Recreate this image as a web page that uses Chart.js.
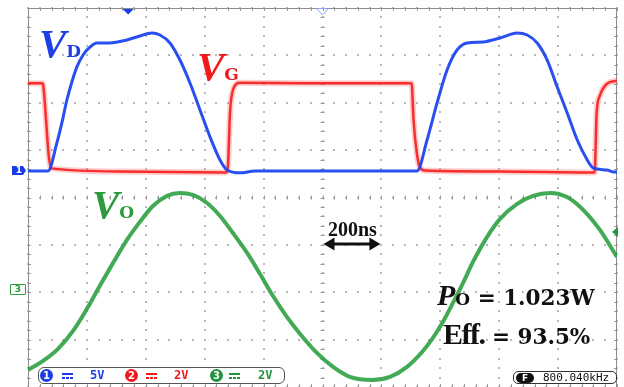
<!DOCTYPE html>
<html>
<head>
<meta charset="utf-8">
<script src="https://cdn.jsdelivr.net/npm/chart.js@4.4.0/dist/chart.umd.min.js"></script>
<style>
  body { margin: 0; background: #fff; }
  #wrap { position: relative; width: 624px; height: 387px; overflow: hidden; background: #fff; }
  #scope { position: absolute; left: 0; top: 0; }
  .lbl { position: absolute; white-space: nowrap; line-height: 1; }
  .big { font-family: "Liberation Serif"; font-weight: bold; font-style: italic; font-size: 41px; }
  .sub { font-family: "DejaVu Serif"; font-weight: bold; font-style: normal; font-size: 17px; }
  .num { font-family: "DejaVu Serif"; font-weight: bold; font-style: normal; font-size: 21.5px; }
  .box { position: absolute; border: 1.5px solid #555; border-radius: 6px; background: #fff; }
  .chip { position: absolute; width: 13px; height: 13px; border-radius: 50%; color: #fff;
          font: bold 10px "DejaVu Sans"; text-align: center; line-height: 13px; }
  .dc { position: absolute; width: 11px; height: 6px;
        background: linear-gradient(currentColor, currentColor) top / 100% 2px no-repeat,
                    repeating-linear-gradient(90deg, currentColor 0 3px, transparent 3px 4px) bottom / 100% 2px no-repeat; }
  .vdiv { position: absolute; font: bold 12px "DejaVu Sans Mono"; line-height: 13px; }
  .mark { position: absolute; font: bold 9px "DejaVu Sans"; line-height: 9px; text-align: center; }
</style>
</head>
<body>
<div id="wrap">
  <canvas id="scope" width="624" height="387"></canvas>

  <div class="lbl big" style="left:39px;top:23px;color:#1d3fe6">V<span class="sub">D</span></div>
  <div class="lbl big" style="left:197px;top:46px;color:#f21a1a">V<span class="sub">G</span></div>
  <div class="lbl big" style="left:92px;top:184px;color:#2e9a3e">V<span class="sub">O</span></div>

  <div class="lbl" style="left:328px;top:218px;font:bold 20px 'Liberation Serif';color:#111">200ns</div>

  <div class="lbl" style="left:437px;top:278px;font:italic bold 30px 'Liberation Serif';color:#111">P<span class="sub">O</span><span class="num"> = 1.023W</span></div>
  <div class="lbl" style="left:443px;top:317px;font:bold 30px 'Liberation Serif';letter-spacing:-1.5px;color:#111">Eff.<span class="num" style="letter-spacing:0"> = 93.5%</span></div>

  <div class="mark" style="left:12px;top:166px;width:14px;height:9px;background:#1a3ce8;color:#fff;clip-path:polygon(0 0,78% 0,100% 50%,78% 100%,0 100%)">1</div>
  <div class="mark" style="left:10px;top:284px;width:14px;height:9px;border:1px solid #2e9a3e;border-radius:1px;color:#2e9a3e;background:#fff">3</div>

  <div class="box" style="left:38px;top:367px;width:245px;height:15px"></div>
  <div class="chip" style="left:40px;top:369px;background:#1a3ce8">1</div>
  <div class="dc" style="left:62px;top:373px;color:#1a3ce8"></div>
  <div class="vdiv" style="left:90px;top:369px;color:#1a3ce8">5V</div>
  <div class="chip" style="left:125px;top:369px;background:#f01a1a">2</div>
  <div class="dc" style="left:146px;top:373px;color:#f01a1a"></div>
  <div class="vdiv" style="left:174px;top:369px;color:#f01a1a">2V</div>
  <div class="chip" style="left:210px;top:369px;background:#22943e">3</div>
  <div class="dc" style="left:229px;top:373px;color:#22943e"></div>
  <div class="vdiv" style="left:258px;top:369px;color:#22943e">2V</div>

  <div class="box" style="left:513px;top:371px;width:102px;height:11px;border-radius:5px;border-color:#333"></div>
  <div class="chip" style="left:516px;top:373px;width:18px;height:10px;border-radius:5px;background:#111;line-height:10px;font-size:9px">F</div>
  <div class="vdiv" style="left:543px;top:371px;font:11px 'DejaVu Sans Mono';line-height:13px;color:#111">800.040kHz</div>
</div>

<script>
// time axis: 10 div x 200 ns
const timeTicks = [0, 200, 400, 600, 800, 1000, 1200, 1400, 1600, 1800, 2000];
const divTicks = [0, 1, 2, 3, 4, 5, 6, 7, 8];

// channel settings (V/div and ground level in divisions from bottom)
const voltsPerDiv = [5, 2, 2];
const zeroDiv = [4.56, 4.53, 2.07];

// CH1 drain voltage
const vdTime = [0, 68, 98, 115, 132, 149, 166, 187, 211, 234, 278, 336, 380, 421, 448, 482, 516, 550, 584, 618, 652, 676, 720, 771,
  1321, 1355, 1389, 1423, 1457, 1491, 1545, 1603, 1661, 1695, 1729, 1763, 1797, 1831, 1865, 1899, 1919, 1966, 1987, 2000];
const vdVolts = [0, 0, 2.96, 5.07, 7.49, 9.39, 10.98, 12.24, 13.09, 13.51, 13.51, 13.83, 14.25, 14.56, 14.35, 13.51, 11.71, 9.29, 6.44, 3.59, 1.16, 0.1, -0.2, 0,
  0, 3.27, 7.18, 10.66, 12.77, 13.51, 13.61, 14.04, 14.56, 14.35, 13.51, 11.71, 8.87, 6.12, 3.27, 1.16, 0.32, 0.1, -0.1, -0.1];

// CH2 gate voltage
const vgTime = [0, 48, 51, 58, 65, 71, 81, 312, 672, 679, 686, 697, 720, 924,
  1300, 1303, 1309, 1320, 1331, 1348, 1603, 1924, 1931, 1942, 1965, 2000];
const vgVolts = [3.76, 3.76, 3.72, 2.79, 1.56, 0.63, 0.17, 0.04, 0, 0.3, 2.53, 3.52, 3.78, 3.76,
  3.76, 3.72, 2.24, 0.84, 0.21, 0.08, 0.04, 0, 2.53, 3.24, 3.73, 3.87];

// CH3 output voltage
const voTime = [0, 51, 102, 153, 200, 244, 289, 336, 380, 424, 472, 516, 560, 608, 652, 696, 744, 788, 832, 879, 924,
  981, 1036, 1093, 1168, 1229, 1287, 1341, 1375, 1409, 1443, 1477, 1511, 1559, 1603, 1661, 1715, 1773, 1830, 1885, 1942, 2000];
const voVolts = [-3.42, -3.04, -2.53, -1.77, -0.84, 0.13, 1.10, 2.07, 2.83, 3.50, 3.93, 4.05, 3.97, 3.63, 3.08, 2.36, 1.52, 0.63, -0.30, -1.18, -1.90,
  -2.70, -3.29, -3.71, -3.84, -3.71, -3.29, -2.62, -2.07, -1.39, -0.59, 0.25, 1.14, 2.20, 2.96, 3.59, 3.93, 4.05, 3.88, 3.34, 2.49, 1.35];

// trigger / marker settings
const trigTime = 340;
const ch3Level = 2.4;

function pts(ts, vs) {
    return ts.map((t, i) => ({ x: t, y: vs[i] }));
}

function chAxis(i) {
    return {
        type: 'linear',
        display: false,
        min: -zeroDiv[i] * voltsPerDiv[i],
        max: (divTicks.length - 1 - zeroDiv[i]) * voltsPerDiv[i]
    };
}

const scopeDecor = {
    id: 'scopeDecor',
    beforeDatasetsDraw(chart) {
        const { ctx, chartArea: a, scales: { x, y } } = chart;
        const midY = y.getPixelForValue(4);
        const midX = x.getPixelForValue(1000);
        const tMax = timeTicks[timeTicks.length - 1];
        const dMax = divTicks[divTicks.length - 1];
        ctx.save();

        // dotted graticule, 5 dots per division
        ctx.fillStyle = '#b8b8b8';
        timeTicks.forEach(t => {
            const px = Math.round(x.getPixelForValue(t)) - 1;
            for (let j = 0; j <= dMax * 5; j++) {
                ctx.fillRect(px, Math.round(y.getPixelForValue(j / 5)) - 1, 2, 2);
            }
        });
        divTicks.forEach(d => {
            const py = Math.round(y.getPixelForValue(d)) - 1;
            for (let j = 0; j <= 50; j++) {
                ctx.fillRect(Math.round(x.getPixelForValue(j * tMax / 50)) - 1, py, 2, 2);
            }
        });

        // minor ticks on frame and centre lines
        ctx.strokeStyle = '#999';
        ctx.lineWidth = 1;
        ctx.beginPath();
        for (let i = 0; i <= 50; i++) {
            const px = Math.round(x.getPixelForValue(i * tMax / 50)) + 0.5;
            ctx.moveTo(px, a.top); ctx.lineTo(px, a.top + 3);
            ctx.moveTo(px, a.bottom); ctx.lineTo(px, a.bottom - 3);
            ctx.moveTo(px, midY - 2); ctx.lineTo(px, midY + 2);
        }
        for (let i = 0; i <= dMax * 5; i++) {
            const py = Math.round(y.getPixelForValue(i / 5)) + 0.5;
            ctx.moveTo(a.left, py); ctx.lineTo(a.left + 3, py);
            ctx.moveTo(a.right, py); ctx.lineTo(a.right - 3, py);
            ctx.moveTo(midX - 2, py); ctx.lineTo(midX + 2, py);
        }
        ctx.stroke();

        // frame
        ctx.strokeStyle = '#8c8c8c';
        ctx.beginPath();
        ctx.moveTo(a.left + 0.5, a.bottom);
        ctx.lineTo(a.left + 0.5, a.top + 0.5);
        ctx.lineTo(a.right - 0.5, a.top + 0.5);
        ctx.lineTo(a.right - 0.5, a.bottom);
        ctx.stroke();
        ctx.restore();
    },
    afterDraw(chart) {
        const { ctx, chartArea: a, scales: { x, y3 } } = chart;
        ctx.save();

        // trigger position marker
        let px = x.getPixelForValue(trigTime);
        ctx.fillStyle = '#1a3ce8';
        ctx.beginPath();
        ctx.moveTo(px - 5.5, a.top + 1);
        ctx.lineTo(px + 5.5, a.top + 1);
        ctx.lineTo(px, a.top + 6.5);
        ctx.closePath();
        ctx.fill();

        // centre marker
        px = x.getPixelForValue(1000);
        ctx.strokeStyle = '#8aa4f0';
        ctx.lineWidth = 1;
        ctx.beginPath();
        ctx.moveTo(px - 6, a.top + 0.5);
        ctx.lineTo(px + 6, a.top + 0.5);
        ctx.lineTo(px, a.top + 7);
        ctx.closePath();
        ctx.stroke();

        // ch3 trigger level
        const py = y3.getPixelForValue(ch3Level);
        ctx.fillStyle = '#1e9a3c';
        ctx.beginPath();
        ctx.moveTo(a.right - 5, py);
        ctx.lineTo(a.right + 1, py - 5);
        ctx.lineTo(a.right + 1, py + 5);
        ctx.closePath();
        ctx.fill();

        // 200 ns arrow
        const x1 = x.getPixelForValue(1000) + 1;
        const x2 = x.getPixelForValue(1200) - 1;
        const ay = 244;
        ctx.fillStyle = '#111';
        ctx.strokeStyle = '#111';
        ctx.lineWidth = 3;
        ctx.beginPath();
        ctx.moveTo(x1 + 8, ay);
        ctx.lineTo(x2 - 8, ay);
        ctx.stroke();
        ctx.beginPath();
        ctx.moveTo(x1, ay);
        ctx.lineTo(x1 + 11, ay - 6.5);
        ctx.lineTo(x1 + 11, ay + 6.5);
        ctx.closePath();
        ctx.moveTo(x2, ay);
        ctx.lineTo(x2 - 11, ay - 6.5);
        ctx.lineTo(x2 - 11, ay + 6.5);
        ctx.closePath();
        ctx.fill();
        ctx.restore();
    }
};

new Chart(document.getElementById('scope'), {
    type: 'line',
    data: {
        datasets: [
            {
                label: 'VD',
                data: pts(vdTime, vdVolts),
                yAxisID: 'y1',
                borderColor: 'rgba(30, 70, 240, 0.95)',
                borderWidth: 3,
                cubicInterpolationMode: 'monotone'
            },
            {
                label: 'VG',
                data: pts(vgTime, vgVolts),
                yAxisID: 'y2',
                borderColor: 'rgba(245, 30, 30, 0.9)',
                borderWidth: 2.5,
                cubicInterpolationMode: 'monotone'
            },
            {
                label: 'VG noise',
                data: pts(vgTime, vgVolts),
                yAxisID: 'y2',
                borderColor: 'rgba(255, 110, 110, 0.35)',
                borderWidth: 6,
                cubicInterpolationMode: 'monotone'
            },
            {
                label: 'VO',
                data: pts(voTime, voVolts),
                yAxisID: 'y3',
                borderColor: 'rgba(45, 160, 65, 0.9)',
                borderWidth: 4,
                cubicInterpolationMode: 'monotone'
            }
        ]
    },
    options: {
        responsive: false,
        animation: false,
        events: [],
        layout: { padding: { left: 28, right: 7, top: 8, bottom: 0 } },
        elements: { point: { radius: 0 } },
        plugins: {
            legend: { display: false },
            tooltip: { enabled: false }
        },
        scales: {
            x: {
                type: 'linear',
                min: timeTicks[0],
                max: timeTicks[timeTicks.length - 1],
                ticks: { display: false },
                grid: { display: false, drawTicks: false },
                border: { display: false }
            },
            y: {
                type: 'linear',
                position: 'left',
                min: divTicks[0],
                max: divTicks[divTicks.length - 1],
                ticks: { display: false },
                grid: { display: false, drawTicks: false },
                border: { display: false }
            },
            y1: chAxis(0),
            y2: chAxis(1),
            y3: chAxis(2)
        }
    },
    plugins: [scopeDecor]
});
</script>
</body>
</html>
